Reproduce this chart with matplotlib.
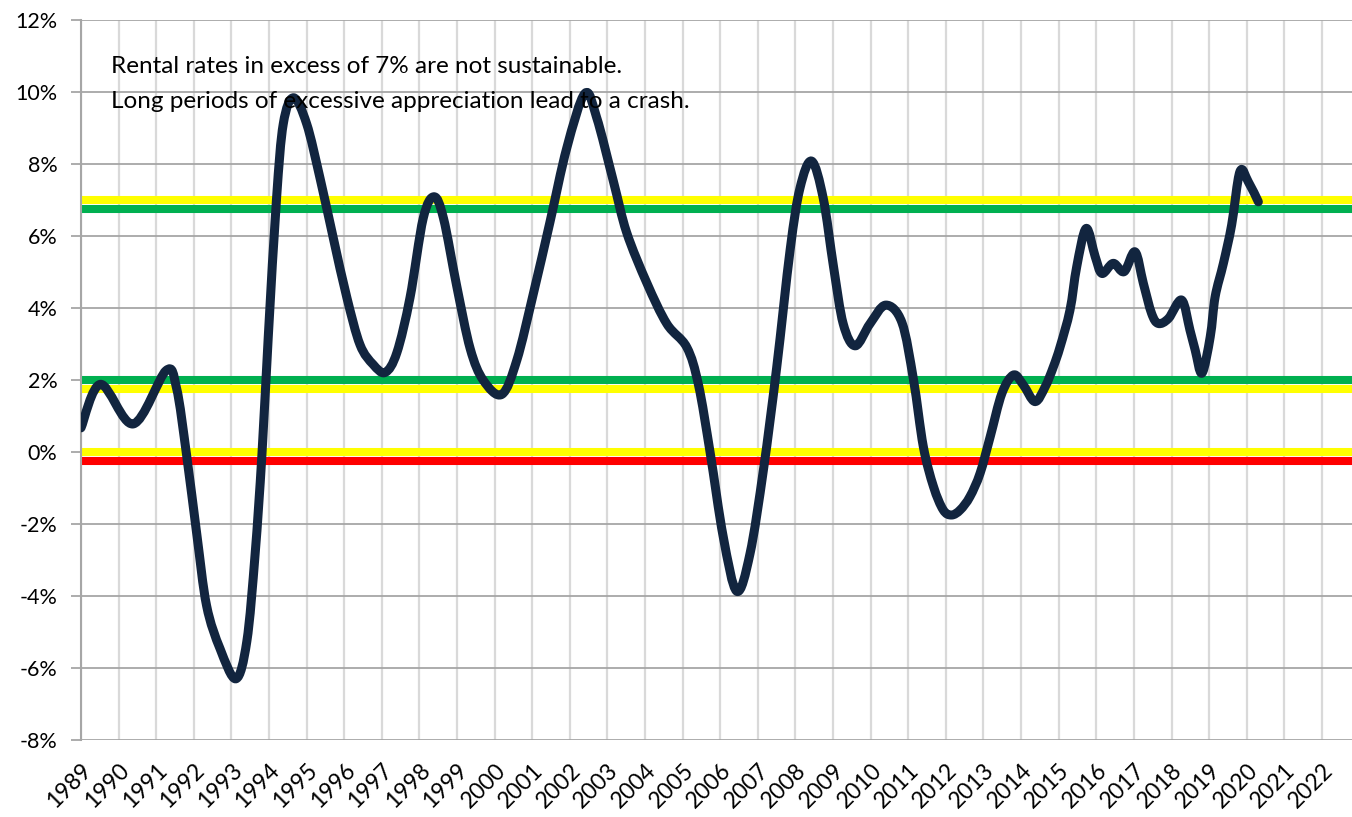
import matplotlib
matplotlib.use("Agg")
from matplotlib import pyplot as plt
from matplotlib.path import Path
from matplotlib.patches import PathPatch
from matplotlib.ticker import FuncFormatter
import numpy as np

plt.rcParams['font.family'] = ['Lato', 'DejaVu Sans']

# rental growth, year-over-year
years = [1989.00, 1989.52, 1990.39, 1991.26, 1991.54, 1991.81, 1992.08, 1992.34,
         1992.70, 1993.12, 1993.41, 1993.63, 1993.81, 1993.98, 1994.20, 1994.38,
         1994.65, 1995.00, 1995.36, 1995.71, 1996.07, 1996.42, 1996.77, 1997.09,
         1997.40, 1997.75, 1998.10, 1998.39, 1998.64, 1998.99, 1999.35, 1999.70,
         2000.19, 2000.59, 2001.03, 2001.47, 2001.92, 2002.40, 2002.71, 2003.16,
         2003.51, 2004.05, 2004.58, 2005.11, 2005.42, 2005.73, 2006.08, 2006.44,
         2006.79, 2007.15, 2007.50, 2007.86, 2008.12, 2008.43, 2008.74, 2009.01,
         2009.27, 2009.59, 2009.98, 2010.40, 2010.83, 2011.14, 2011.40, 2011.67,
         2011.93, 2012.15, 2012.38, 2012.64, 2012.91, 2013.18, 2013.49, 2013.80,
         2014.06, 2014.37, 2014.64, 2014.86, 2015.04, 2015.30, 2015.48, 2015.73,
         2015.97, 2016.15, 2016.45, 2016.74, 2017.03, 2017.25, 2017.47, 2017.65,
         2017.92, 2018.27, 2018.49, 2018.63, 2018.81, 2019.03, 2019.16, 2019.38,
         2019.60, 2019.82, 2020.04, 2020.31]
rent_growth = [0.67, 1.88, 0.78, 2.26, 1.78, -0.10, -2.29, -4.27,
               -5.47, -6.30, -5.26, -2.84, -0.10, 3.20, 7.04, 9.12,
               9.84, 9.12, 7.59, 5.94, 4.29, 2.98, 2.43, 2.21,
               2.76, 4.29, 6.49, 7.09, 6.49, 4.62, 2.87, 1.99,
               1.60, 2.55, 4.40, 6.38, 8.45, 9.96, 9.30, 7.51,
               6.10, 4.69, 3.56, 2.91, 1.87, -0.01, -2.36, -3.87,
               -2.83, -0.48, 2.34, 5.63, 7.33, 8.08, 7.04, 5.16,
               3.56, 2.95, 3.56, 4.08, 3.60, 2.00, 0.15, -0.96,
               -1.61, -1.75, -1.61, -1.24, -0.59, 0.43, 1.63, 2.14,
               1.86, 1.40, 1.81, 2.37, 2.93, 3.94, 5.15, 6.21,
               5.43, 4.96, 5.24, 5.01, 5.56, 4.69, 3.85, 3.57,
               3.71, 4.22, 3.39, 2.83, 2.19, 3.20, 4.31, 5.24,
               6.31, 7.79, 7.51, 6.95]

# reference levels
band_levels = [7.0, 6.75, 2.0, 1.75, 0.0, -0.25]
band_colors = ['#FFFF00', '#00B050', '#00B050', '#FFFF00', '#FFFF00', '#FF0000']

year_ticks = list(range(1989, 2023))
pct_ticks = list(range(-8, 13, 2))

note_lines = ["Rental rates in excess of 7% are not sustainable.",
              "Long periods of excessive appreciation lead to a crash."]


def smooth_path(xs, ys):
    # excel-style smoothed line: bezier segments through the points
    p = np.column_stack([xs, ys])
    n = len(p)
    verts = [p[0]]
    codes = [Path.MOVETO]
    for i in range(n - 1):
        prev = p[i - 1] if i > 0 else p[i]
        nxt = p[i + 2] if i + 2 < n else p[i + 1]
        c1 = p[i] + (p[i + 1] - prev) / 6
        c2 = p[i + 1] - (nxt - p[i]) / 6
        verts += [c1, c2, p[i + 1]]
        codes += [Path.CURVE4] * 3
    return Path(verts, codes)


fig = plt.figure(figsize=(13.52, 8.17), dpi=100)
ax = fig.add_axes([81/1352, 1 - 740/817, 1 - 81/1352, 720/817])

ax.set_xlim(1989, 2022.8)
ax.set_ylim(-8, 12)

for lev, col in zip(band_levels, band_colors):
    ax.axhline(lev, color=col, lw=5.8, zorder=2)

line = PathPatch(smooth_path(years, rent_growth), facecolor='none',
                 edgecolor='#12253F', lw=6.5, zorder=3,
                 joinstyle='round', capstyle='round')
ax.add_patch(line)

ax.set_xticks(year_ticks)
ax.set_yticks(pct_ticks)
ax.yaxis.set_major_formatter(FuncFormatter(lambda v, p: f"{int(v)}%"))
ax.set_xticklabels([str(y) for y in year_ticks], rotation=45, ha='right',
                   va='top', rotation_mode='anchor')

ax.grid(axis='x', color='#D9D9D9', lw=1.6, zorder=0)
ax.grid(axis='y', color='#A6A6A6', lw=1.3, zorder=1)
ax.set_axisbelow(True)

for s in ['top', 'right', 'bottom']:
    ax.spines[s].set_visible(False)
ax.spines['left'].set_color('#A6A6A6')
ax.spines['left'].set_linewidth(1.5)

ax.tick_params(axis='y', length=7, color='#A6A6A6', width=1.3, labelsize=15.5,
               pad=10)
ax.tick_params(axis='x', length=0, labelsize=16.5, pad=14)

ax.text(1989.8, 10.53, note_lines[0], fontsize=17.5, va='baseline')
ax.text(1989.8, 9.56, note_lines[1], fontsize=17.5, va='baseline')

fig.savefig("out.png", dpi=100)
